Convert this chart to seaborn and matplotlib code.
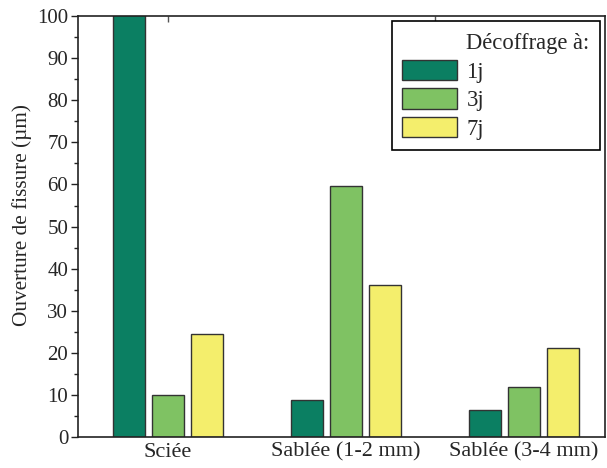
import numpy as np
import pandas as pd
import matplotlib
matplotlib.use("Agg")
import matplotlib.pyplot as plt
import seaborn as sns
from matplotlib.patches import Patch
from matplotlib.ticker import MultipleLocator, FixedLocator

# data
surfaces = ["Sciée", "Sablée (1-2 mm)", "Sablée (3-4 mm)"]
decoffrage = ["1j", "3j", "7j"]
val_1j = [110.0, 8.7, 6.4]   # first bar runs off the top of the axis
val_3j = [10.1, 59.6, 11.9]
val_7j = [24.5, 36.1, 21.2]
colors = ["#0b7f62", "#7fc263", "#f4ee6c"]

df = pd.DataFrame({
    "Surface": surfaces * 3,
    "Decoffrage": np.repeat(decoffrage, 3),
    "Ouverture": val_1j + val_3j + val_7j,
})

sns.set_style("ticks")
plt.rcParams["font.family"] = ["Liberation Serif", "DejaVu Serif"]

fig = plt.figure(figsize=(6.07, 4.68), dpi=100)
ax = fig.add_axes([0.1285, 0.066, 0.868, 0.8998])

sns.barplot(data=df, x="Surface", y="Ouverture", hue="Decoffrage",
            order=surfaces, hue_order=decoffrage, palette=colors,
            width=0.66, gap=0.18, errorbar=None, edgecolor="#333333",
            linewidth=1, saturation=1, ax=ax)

ax.set_xlim(-0.506, 2.455)
ax.set_ylim(0, 100)
ax.yaxis.set_major_locator(MultipleLocator(10))
ax.yaxis.set_minor_locator(MultipleLocator(5))
ax.tick_params(axis="y", which="major", direction="out", length=5, width=1,
               labelsize=15, pad=2, color="#222222")
ax.tick_params(axis="y", which="minor", direction="out", length=3, width=1,
               color="#222222")
ax.tick_params(axis="x", which="major", length=0, labelsize=16, pad=4)
# small inward ticks on the top spine
ax.xaxis.set_minor_locator(FixedLocator([0.002, 1.5]))
ax.tick_params(axis="x", which="minor", bottom=False, top=True,
               direction="in", length=4, width=1, color="#555555")
ax.set_xlabel("")
ax.set_ylabel("Ouverture de fissure (µm)", fontsize=15.3)
ax.yaxis.set_label_coords(-0.088, 0.527)
for s in ax.spines.values():
    s.set_linewidth(1.2)
    s.set_color("#222222")

handles, labels = ax.get_legend_handles_labels()
handles = [Patch(visible=False)] + handles
labels = ["Décoffrage à:"] + labels
leg = ax.legend(handles, labels, loc="upper right", fontsize=16.3,
                handlelength=2.45, handleheight=1.02, labelspacing=0.24,
                handletextpad=0.4, borderpad=0.45, borderaxespad=0.22,
                frameon=True, fancybox=False, edgecolor="black",
                framealpha=1)
leg.get_frame().set_linewidth(1.2)

fig.savefig("out.png", dpi=100)
